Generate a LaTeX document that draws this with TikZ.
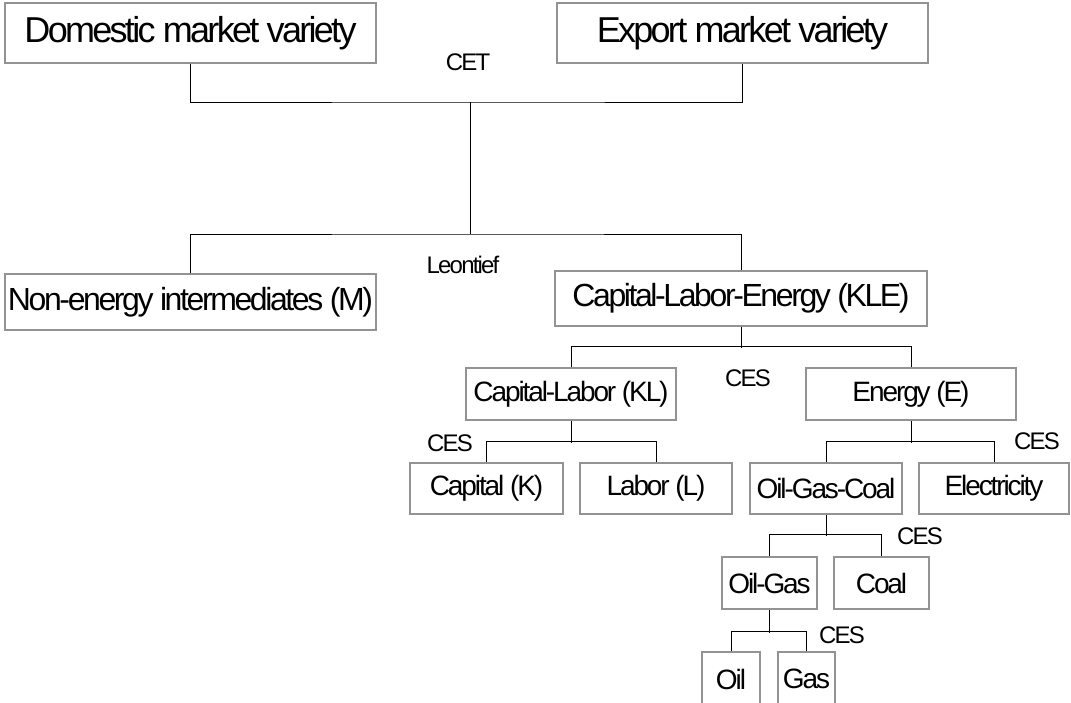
\documentclass[tikz,border=0pt]{standalone}
\usepackage{fontspec}
\setmainfont{Liberation Sans}[LetterSpace=-7.5]
\usetikzlibrary{positioning}
\tikzset{
  box/.style={draw=gray!85, line width=1.3pt, rectangle, inner sep=0pt},
  big/.style={font=\fontsize{36}{40}\selectfont},
  mid/.style={font=\fontsize{32}{36}\selectfont},
  low/.style={font=\fontsize{28}{32}\selectfont},
  fn/.style={font=\fontsize{24}{28}\selectfont},
  link/.style={line width=1pt, black}
}

\begin{document}
\begin{tikzpicture}[x=1pt, y=-1pt]
        \useasboundingbox (0,0) rectangle (1071,702);
        % top level: CET
        \node[box, big, minimum width=371, minimum height=60] (dom) at (190.5,33) {Domestic market variety};
        \node[box, big, minimum width=371, minimum height=60] (exp) at (742.5,33) {Export market variety};
        \coordinate (cet) at (470,102);
        \coordinate (leo) at (470,234);
        \node[fn] (cetlab) at (468,62) {CET};

        % Leontief nest
        \node[box, mid, minimum width=371, minimum height=56] (nonen) at (190.5,302) {Non-energy intermediates (M)};
        \node[box, mid, minimum width=372, minimum height=55] (kle) at (741,298.5) {Capital-Labor-Energy (KLE)};
        \node[fn] (leolab) at (463,265) {Leontief};

        % KLE nest
        \node[box, low, minimum width=210, minimum height=52] (kl) at (571,394) {Capital-Labor (KL)};
        \node[box, low, minimum width=210, minimum height=52] (en) at (911,394) {Energy (E)};
        \node[fn] (klelab) at (748,378) {CES};

        \node[box, low, minimum width=153, minimum height=51] (capk) at (486.5,488.5) {Capital (K)};
        \node[box, low, minimum width=152, minimum height=51] (labl) at (656,488.5) {Labor (L)};
        \node[fn] (kllab) at (450,443.5) {CES};

        \node[box, low, minimum width=152, minimum height=51] (ogc) at (826,488.5) {Oil-Gas-Coal};
        \node[box, low, minimum width=150, minimum height=51] (elec) at (994,488.5) {Electricity};
        \node[fn] (enlab) at (1037,441) {CES};

        \node[box, low, minimum width=95, minimum height=52] (oilgas) at (769.5,583) {Oil-Gas};
        \node[box, low, minimum width=95, minimum height=52] (coal) at (881.5,583) {Coal};
        \node[fn] (ogclab) at (920,536) {CES};

        \node[box, low, minimum width=58, minimum height=54] (oil) at (731,679) {Oil};
        \node[box, low, minimum width=57, minimum height=54] (gas) at (806.5,679) {Gas};
        \node[fn] (oglab) at (842,635) {CES};

        % connectors
        \draw[link] (dom.south) |- (cet) -| (exp.south);
        \draw[link] (cet) -- (leo);
        \draw[link] (nonen.north) |- (leo) -| (kle.north);
        \draw[link] (kle.south) -- ++(0,21);
        \draw[link] (kl.north) -- ++(0,-21) -| (en.north);
        \draw[link] (kl.south) -- ++(0,22);
        \draw[link] (capk.north) -- ++(0,-21) -| (labl.north);
        \draw[link] (en.south) -- ++(0,22);
        \draw[link] (ogc.north) -- ++(0,-21) -| (elec.north);
        \draw[link] (ogc.south) -- ++(0,21);
        \draw[link] (oilgas.north) -- ++(0,-22) -| (coal.north);
        \draw[link] (oilgas.south) -- ++(0,23);
        \draw[link] (oil.north) -- ++(0,-20) -| (gas.north);
    \end{tikzpicture}
\end{document}
